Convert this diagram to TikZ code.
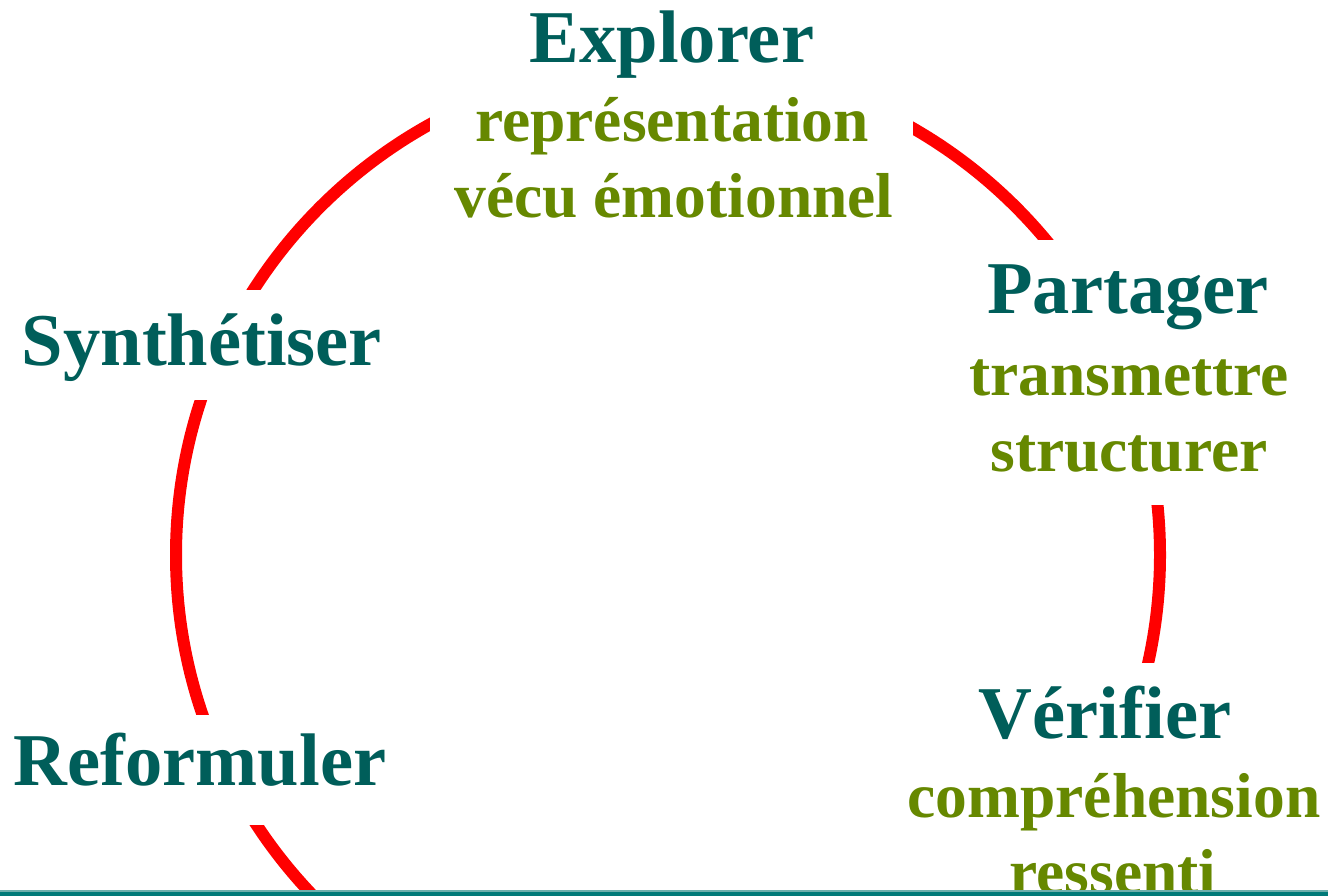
\documentclass[tikz,border=0pt]{standalone}
\usepackage{fontspec}
\setmainfont{Liberation Serif}
\definecolor{headteal}{RGB}{0,94,90}
\definecolor{subgreen}{RGB}{102,136,0}
\definecolor{ringred}{RGB}{255,0,0}
\definecolor{rule}{RGB}{0,122,120}
\definecolor{rulelight}{RGB}{110,175,172}
\tikzset{
  head/.style={anchor=base, text=headteal, inner sep=0pt, font=\bfseries\fontsize{74.5}{80}\selectfont},
  sub/.style={anchor=base, text=subgreen, inner sep=0pt, font=\bfseries\fontsize{63.5}{70}\selectfont},
  ring/.style={draw=ringred, line width=12pt},
  mask/.style={fill=white, draw=none}
}
\begin{document}
\begin{tikzpicture}[x=1pt,y=-1pt]
\useasboundingbox (0,0) rectangle (1328,896);
\begin{scope}
\clip (0,0) rectangle (1328,896);
\coordinate (c) at (668,555);
\draw[ring] (c) circle[radius=492pt];
% gaps where the labels sit
\fill[mask] (430,0) rectangle (913,230);
\fill[mask] (960,240) rectangle (1328,505);
\fill[mask] (880,663) rectangle (1328,896);
\fill[mask] (0,290) rectangle (400,400);
\fill[mask] (0,715) rectangle (400,825);
\end{scope}
% labels
\node[head] (explorer) at (672,63) {Explorer};
\node[sub] (repr) at (672,142) {représentation};
\node[sub] (vecu) at (674,218) {vécu émotionnel};
\node[head] (partager) at (1128,313) {Partager};
\node[sub] (transm) at (1129,395) {transmettre};
\node[sub] (struct) at (1129,471) {structurer};
\node[head] (synth) at (202,365) {Synthétiser};
\node[head] (reform) at (200,785) {Reformuler};
\node[head] (verif) at (1105,738) {Vérifier};
\node[sub] (compr) at (1114,817) {compréhension};
\node[sub] (ressenti) at (1113,893) {ressenti};
% bottom rule
\fill[rule] (0,891) rectangle (1328,896);
\fill[rulelight] (0,890) rectangle (1328,891.5);
\end{tikzpicture}
\end{document}
